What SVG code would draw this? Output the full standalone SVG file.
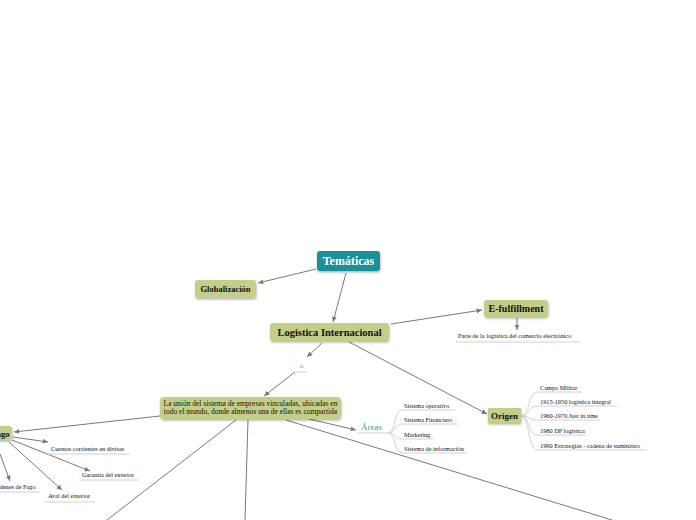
<svg xmlns="http://www.w3.org/2000/svg" width="696" height="520" viewBox="0 0 696 520">
<defs>
<filter id="sh" x="-10%" y="-20%" width="130%" height="160%"><feDropShadow dx="0.5" dy="1.5" stdDeviation="0.8" flood-color="#000" flood-opacity="0.3"/></filter>
<marker id="ah" viewBox="0 0 10 10" refX="9" refY="5" markerWidth="6" markerHeight="6" orient="auto"><path d="M0,1 L9,5 L0,9 Z" fill="#777"/></marker>
<style>
.g{fill:#c3cf88;filter:url(#sh)}
.t{fill:#1a9099;filter:url(#sh)}
.nt{font-family:"Liberation Serif",serif;font-weight:bold;fill:#111;text-anchor:middle}
.lf{font-family:"Liberation Serif",serif;font-size:6.3px;fill:#111}
.c{stroke:#7a7a7a;stroke-width:1;fill:none}
.a{marker-end:url(#ah)}
.u{stroke:#d0d0d0;stroke-width:1;fill:none}
.tl{font-family:"Liberation Serif",serif;fill:#2aa3ad}
</style>
</defs>
<g id="connectors">
<line class="c a" x1="316" y1="269" x2="258" y2="283"/>
<line class="c a" x1="346" y1="273" x2="333" y2="322"/>
<line class="c a" x1="391" y1="324" x2="482" y2="310"/>
<line class="c a" x1="517" y1="318" x2="517" y2="330"/>
<line class="c a" x1="322" y1="343" x2="307" y2="357"/>
<line class="c a" x1="349" y1="342" x2="487" y2="414"/>
<line class="c a" x1="295" y1="372" x2="264" y2="396"/>
<line class="c a" x1="309" y1="419" x2="356" y2="430"/>
<line class="c a" x1="160" y1="416" x2="14" y2="432"/>
<line class="c" x1="236" y1="420" x2="107" y2="520"/>
<line class="c" x1="248" y1="420" x2="245" y2="520"/>
<line class="c" x1="286" y1="420" x2="612" y2="520"/>
<line class="c a" x1="13" y1="437" x2="48" y2="442"/>
<line class="c a" x1="12" y1="440" x2="90" y2="471"/>
<line class="c a" x1="9" y1="442" x2="62" y2="490"/>
<line class="c a" x1="0" y1="454" x2="10" y2="481"/>
<path class="u" d="M388,433 C396,433 394,410 402,410 L455,410"/>
<path class="u" d="M388,433 C396,433 394,424 402,424 L458,424"/>
<path class="u" d="M388,433 C396,433 394,439 402,439 L433,439"/>
<path class="u" d="M388,433 C396,433 394,453 402,453 L467,453"/>
<path class="u" d="M521,416 C530,416 528,392 537,392 L582,392"/>
<path class="u" d="M521,416 C530,416 528,406 537,406 L617,406"/>
<path class="u" d="M521,416 C530,416 528,420 537,420 L600,420"/>
<path class="u" d="M521,416 C530,416 528,435 537,435 L586,435"/>
<path class="u" d="M521,416 C530,416 528,450 537,450 L647,450"/>
</g>
<g id="tematicas"><rect class="t" x="317" y="251" width="63" height="20" rx="3"/><text class="nt" x="348.5" y="265" font-size="12" style="fill:#fff">Temáticas</text></g>
<g id="globalizacion"><rect class="g" x="195" y="280" width="61" height="18" rx="3"/><text class="nt" x="225.5" y="292" font-size="8.5">Globalización</text></g>
<g id="logistica"><rect class="g" x="270" y="323" width="119" height="18" rx="3"/><text class="nt" x="329.5" y="335.5" font-size="10.5">Logistica Internacional</text></g>
<g id="efulfillment"><rect class="g" x="484" y="300" width="64" height="17" rx="3"/><text class="nt" x="516" y="312" font-size="10">E-fulfillment</text></g>
<g id="parte"><text class="lf" x="458" y="338">Parte de la logística del comercio electrónico</text><line class="u" x1="456" y1="342" x2="580" y2="342"/></g>
<g id="o"><text class="tl" x="301.5" y="368" font-size="7" text-anchor="middle">o</text><line class="u" x1="296" y1="372" x2="307" y2="372"/></g>
<g id="union"><rect class="g" x="160" y="397" width="181" height="22" rx="4"/><text class="nt" x="250.5" y="405.5" font-size="7.5" style="font-weight:normal">La unión del sistema de empresas vinculadas, ubicadas en</text><text class="nt" x="250.5" y="414" font-size="7.5" style="font-weight:normal">todo el mundo, donde almenos una de ellas es compartida</text></g>
<g id="areas"><text class="tl" x="361" y="430" font-size="9">Áreas</text><line class="u" x1="357" y1="433" x2="388" y2="433"/></g>
<g id="areas-items">
<text class="lf" x="404" y="408">Sistema operativo</text>
<text class="lf" x="404" y="422">Sistema Financiero</text>
<text class="lf" x="404" y="437">Marketing</text>
<text class="lf" x="404" y="451">Sistema de información</text>
</g>
<g id="origen"><rect class="g" x="488" y="408" width="33" height="15" rx="1"/><text class="nt" x="504.5" y="419" font-size="9">Origen</text></g>
<g id="origen-items">
<text class="lf" x="540" y="390">Campo Militar</text>
<text class="lf" x="540" y="404">1915-1950 logística integral</text>
<text class="lf" x="540" y="418">1960-1970 Just in time</text>
<text class="lf" x="540" y="433">1980 DP logística</text>
<text class="lf" x="540" y="448">1990 Estrategias - cadena de suministro</text>
</g>
<g id="pago"><rect class="g" x="-30" y="426" width="42" height="14" rx="3"/><text class="nt" x="9.5" y="436.5" font-size="8.5" style="text-anchor:end">Pago</text></g>
<g id="pago-items">
<text class="lf" x="51" y="451">Cuentas corrientes en divisas</text><line class="u" x1="48" y1="454" x2="130" y2="454"/>
<text class="lf" x="82" y="477">Garantía del exterior</text><line class="u" x1="79" y1="480" x2="139" y2="480"/>
<text class="lf" x="48" y="498">Aval del exterior</text><line class="u" x1="45" y1="502" x2="95" y2="502"/>
<text class="lf" x="-7" y="489">Órdenes de Pago</text><line class="u" x1="0" y1="492" x2="40" y2="492"/>
</g>
</svg>
